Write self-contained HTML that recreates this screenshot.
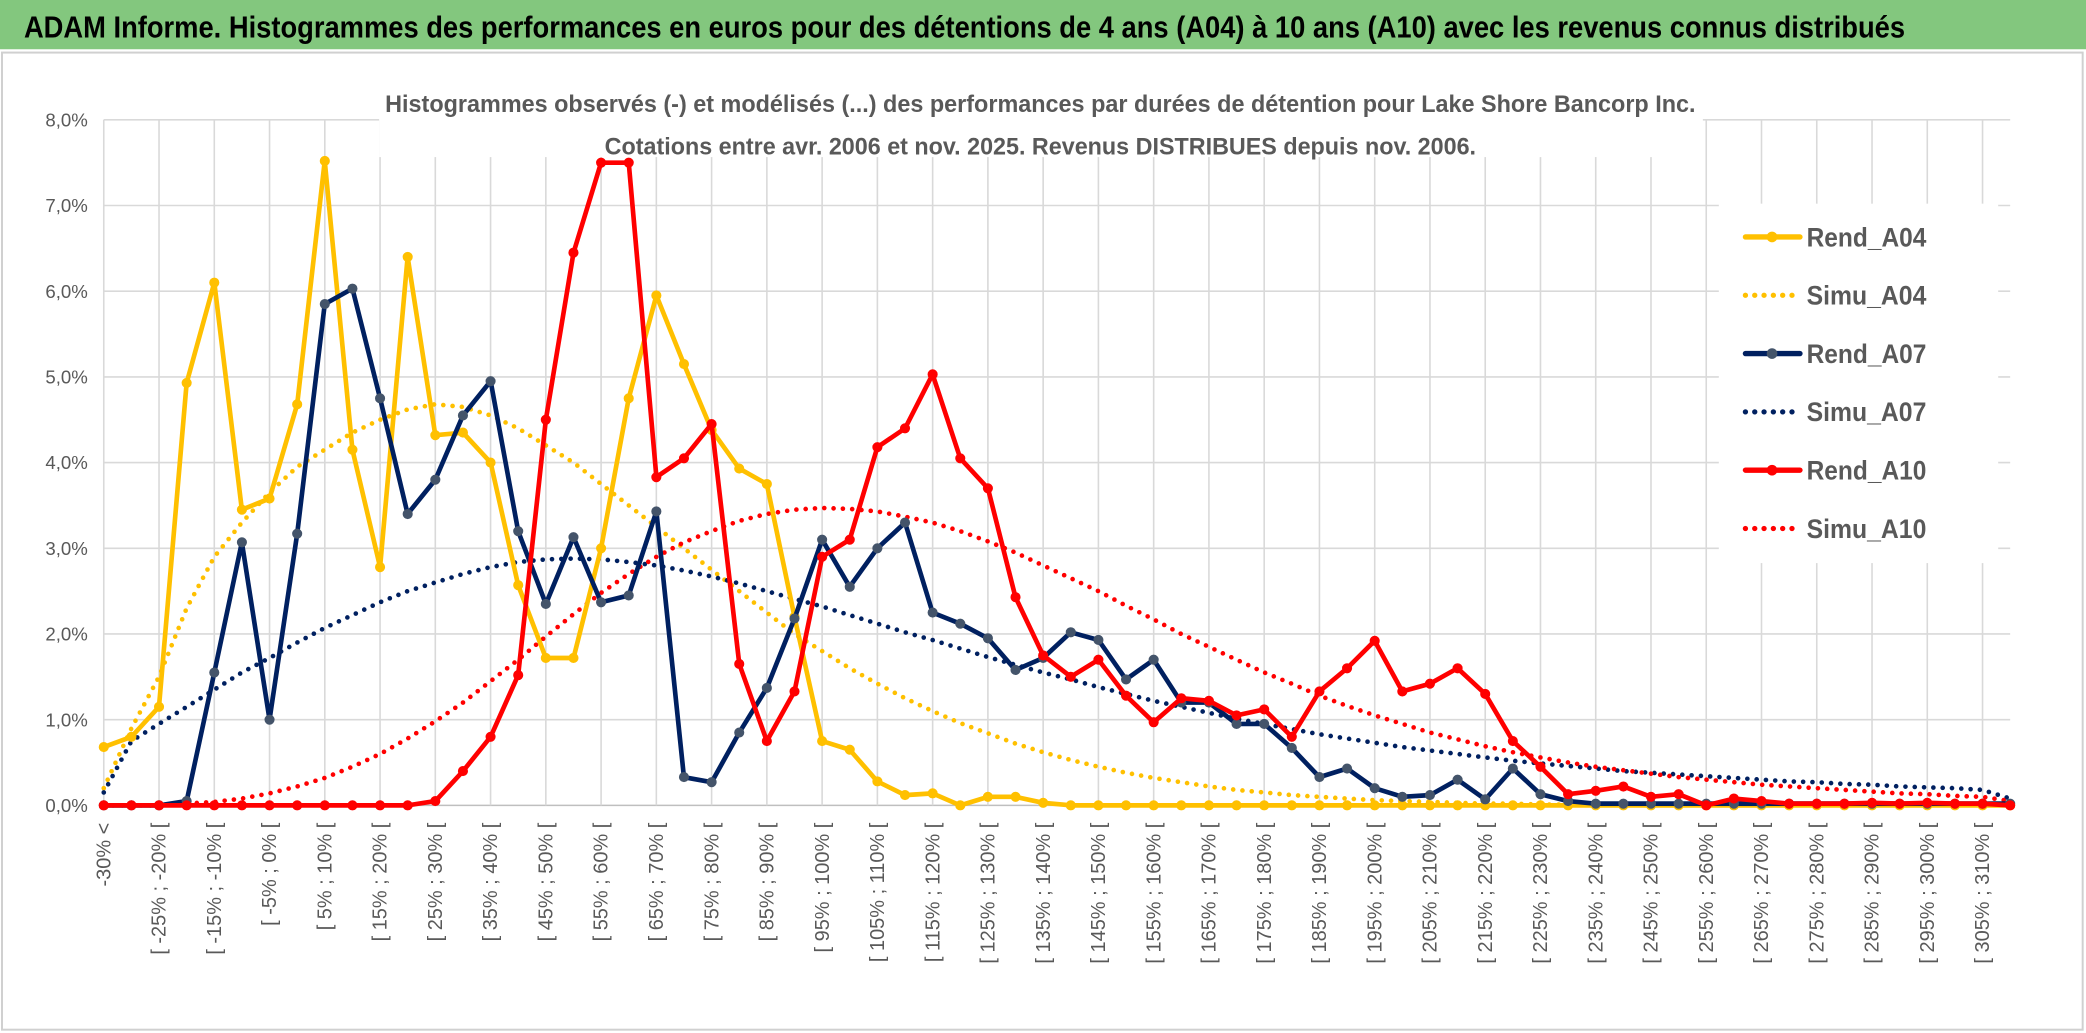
<!DOCTYPE html>
<html><head><meta charset="utf-8">
<style>
html,body{margin:0;padding:0;background:#fff;}
svg{display:block;}
text{font-family:"Liberation Sans Narrow","Liberation Sans",sans-serif;}
</style></head>
<body>
<svg id="chart" width="2086" height="1033" viewBox="0 0 1568 776" preserveAspectRatio="none" xmlns="http://www.w3.org/2000/svg">
  <rect x="0" y="0" width="1568" height="776" fill="#ffffff"/>
  <rect x="0" y="0" width="1568" height="37" fill="#83c77e"/>
  <text x="18" y="28" font-size="23" font-weight="bold" fill="#000" textLength="1414" lengthAdjust="spacingAndGlyphs">ADAM Informe. Histogrammes des performances en euros pour des détentions de 4 ans (A04) à 10 ans (A10) avec les revenus connus distribués</text>
  <rect x="1.5" y="39.5" width="1564" height="734" fill="none" stroke="#d0d0d0" stroke-width="1.5"/>
  <g id="grid"></g>
  <g id="yaxis"></g>
  <g id="xaxis"></g>
  <rect x="285" y="62" width="995" height="56" fill="#fff"/>
  <g id="series"></g>
  <text x="782" y="84" text-anchor="middle" font-size="18" font-weight="bold" fill="#595959" textLength="985" lengthAdjust="spacingAndGlyphs">Histogrammes observés (-) et modélisés (...) des performances par durées de détention pour Lake Shore Bancorp Inc.</text>
  <text x="782" y="116" text-anchor="middle" font-size="18" font-weight="bold" fill="#595959" textLength="655" lengthAdjust="spacingAndGlyphs">Cotations entre avr. 2006 et nov. 2025. Revenus DISTRIBUES depuis nov. 2006.</text>
  <g id="legend"></g>
</svg>
<script>
const yTicks = [0,1,2,3,4,5,6,7,8];
const rendA04 = [0.68,0.8,1.15,4.93,6.1,3.45,3.58,4.68,7.52,4.15,2.78,6.4,4.32,4.35,4.0,2.57,1.72,1.72,3.0,4.75,5.95,5.15,4.38,3.93,3.75,2.2,0.75,0.65,0.28,0.12,0.14,0.0,0.1,0.1,0.03,0,0,0,0,0,0,0,0,0,0,0,0,0,0,0,0,0,0,0,0,0,0,0,0,0,0,0,0,0,0,0,0,0,0,0];
const simuA04 = [0.2,0.9,1.5,2.3,2.9,3.3,3.65,3.95,4.15,4.35,4.5,4.62,4.68,4.65,4.55,4.4,4.2,4.0,3.75,3.5,3.25,3.0,2.75,2.5,2.25,2.0,1.8,1.6,1.42,1.25,1.1,0.96,0.84,0.72,0.62,0.53,0.45,0.38,0.32,0.27,0.22,0.18,0.15,0.12,0.1,0.08,0.06,0.05,0.04,0.03,0.02,0.02,0.01,0.01];
const rendA07 = [0,0,0,0.05,1.55,3.07,1.0,3.17,5.85,6.03,4.75,3.4,3.8,4.55,4.95,3.2,2.35,3.13,2.37,2.45,3.43,0.33,0.27,0.85,1.37,2.18,3.1,2.55,3.0,3.3,2.25,2.12,1.95,1.58,1.72,2.02,1.93,1.47,1.7,1.2,1.2,0.95,0.95,0.67,0.33,0.43,0.2,0.1,0.12,0.3,0.07,0.43,0.13,0.05,0.02,0.02,0.02,0.02,0.02,0.02,0.02,0.02,0.02,0.02,0.02,0.02,0.02,0.02,0.02,0.02];
const simuA07 = [0.15,0.75,0.95,1.15,1.35,1.55,1.72,1.9,2.07,2.22,2.37,2.5,2.6,2.7,2.78,2.84,2.87,2.88,2.87,2.84,2.8,2.74,2.67,2.59,2.5,2.41,2.32,2.22,2.12,2.02,1.93,1.83,1.73,1.64,1.55,1.47,1.38,1.3,1.22,1.15,1.08,1.01,0.95,0.89,0.83,0.78,0.73,0.68,0.64,0.6,0.56,0.52,0.49,0.46,0.43,0.4,0.38,0.36,0.34,0.32,0.3,0.28,0.27,0.25,0.24,0.22,0.21,0.2,0.18,0.08];
const rendA10 = [0,0,0,0,0,0,0,0,0,0,0,0,0.05,0.4,0.8,1.52,4.5,6.45,7.5,7.5,3.83,4.05,4.45,1.65,0.75,1.33,2.9,3.1,4.18,4.4,5.03,4.05,3.7,2.43,1.75,1.5,1.7,1.28,0.97,1.25,1.22,1.05,1.12,0.8,1.33,1.6,1.92,1.33,1.42,1.6,1.3,0.75,0.45,0.13,0.17,0.22,0.1,0.13,0.0,0.08,0.05,0.02,0.02,0.02,0.03,0.02,0.03,0.02,0.02,0.0];
const simuA10 = [0,0,0,0.02,0.04,0.08,0.14,0.22,0.32,0.45,0.6,0.78,0.98,1.2,1.45,1.7,1.97,2.23,2.48,2.7,2.9,3.07,3.2,3.32,3.4,3.45,3.47,3.46,3.43,3.37,3.3,3.2,3.08,2.95,2.8,2.65,2.5,2.33,2.17,2.0,1.85,1.7,1.55,1.42,1.28,1.16,1.05,0.95,0.85,0.77,0.69,0.62,0.56,0.5,0.45,0.41,0.37,0.33,0.3,0.27,0.24,0.22,0.2,0.18,0.16,0.14,0.13,0.11,0.1,0.05];
const categories = ["-30% <"];
for (let lo = -30; lo < 315; lo += 5) categories.push("[ " + lo + "% ; " + (lo + 5) + "% [");

const NS = "http://www.w3.org/2000/svg";
const X0 = 78, X1 = 1511, Y0 = 605, Y8 = 90;
const step = (X1 - X0) / (categories.length - 1);
const xs = i => X0 + i * step;
const ys = v => Y0 - (v / 8) * (Y0 - Y8);
function mk(tag, attrs, parent) {
  const e = document.createElementNS(NS, tag);
  for (const k in attrs) e.setAttribute(k, attrs[k]);
  parent.appendChild(e);
  return e;
}
const grid = document.getElementById('grid');
const yaxis = document.getElementById('yaxis');
const xaxis = document.getElementById('xaxis');
const series = document.getElementById('series');
const legend = document.getElementById('legend');

yTicks.forEach(t => {
  const l = mk('line', {x1: X0, x2: X1, y1: ys(t), y2: ys(t), stroke: t === 0 ? '#bfbfbf' : '#d9d9d9', 'stroke-width': 1.2}, grid);
  
  
  const tx = mk('text', {x: 66, y: ys(t) + 5, 'text-anchor': 'end', 'font-size': 14, fill: '#595959'}, yaxis);
  tx.textContent = t.toFixed(1).replace('.', ',') + '%';
  
  
});
categories.forEach((c, i) => {
  if (i % 2 === 0) {
    const g = mk('line', {x1: xs(i), x2: xs(i), y1: Y8, y2: Y0, stroke: '#d9d9d9', 'stroke-width': 1.2}, grid);
    
    
    const tx = mk('text', {x: 0, y: 0, 'text-anchor': 'end', 'font-size': 15, fill: '#595959',
      transform: 'translate(' + (xs(i) + 5) + ',618) rotate(-90)'}, xaxis);
    tx.textContent = c;
    
    
  }
});

function drawLine(vals, color, dotted, markerFill, name) {
  const pts = vals.map((v, i) => xs(i).toFixed(1) + ',' + ys(v).toFixed(1)).join(' ');
  const attrs = {points: pts, fill: 'none', stroke: color, 'stroke-width': 3.5, 'stroke-linejoin': 'round', 'stroke-linecap': 'round'};
  if (dotted) attrs['stroke-dasharray'] = '0 7';
  const p = mk('polyline', attrs, series);
  
  
  if (!dotted) {
    vals.forEach((v, i) => {
      const c = mk('circle', {cx: xs(i), cy: ys(v), r: 3.3, fill: markerFill, stroke: markerFill}, series);
      
      
    });
  }
}
drawLine(simuA04, '#ffc000', true, null, 'simu-a04-line');
drawLine(simuA07, '#002060', true, null, 'simu-a07-line');
drawLine(simuA10, '#ff0000', true, null, 'simu-a10-line');
drawLine(rendA04, '#ffc000', false, '#ffc000', 'rend-a04-line');
drawLine(rendA07, '#002060', false, '#44546a', 'rend-a07-line');
drawLine(rendA10, '#ff0000', false, '#ff0000', 'rend-a10-line');

const lbg = mk('rect', {x: 1292, y: 153, width: 210, height: 270, fill: '#fff'}, legend);


const legendNames = ['Rend_A04','Simu_A04','Rend_A07','Simu_A07','Rend_A10','Simu_A10'];
const legendColors = ['#ffc000','#ffc000','#002060','#002060','#ff0000','#ff0000'];
const legendMarkers = ['#ffc000',null,'#44546a',null,'#ff0000',null];
legendNames.forEach((n, k) => {
  const y = 178 + k * 43.8;
  const dotted = legendMarkers[k] === null;
  const la = {x1: 1312, x2: 1353, y1: y, y2: y, stroke: legendColors[k], 'stroke-width': 4, 'stroke-linecap': 'round'};
  if (dotted) la['stroke-dasharray'] = '0 7';
  const l = mk('line', la, legend);
  
  
  if (!dotted) {
    const c = mk('circle', {cx: 1332, cy: y, r: 4, fill: legendMarkers[k]}, legend);
    
    
  }
  const t = mk('text', {x: 1358, y: y + 7, 'font-size': 20, 'font-weight': 'bold', fill: '#595959', textLength: 90, lengthAdjust: 'spacingAndGlyphs'}, legend);
  t.textContent = n;
  
  
});
</script>
</body></html>
